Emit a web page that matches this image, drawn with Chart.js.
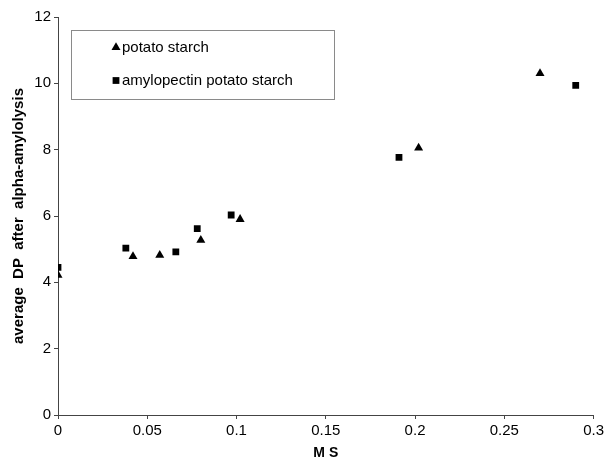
<!DOCTYPE html>
<html><head><meta charset="utf-8">
<script src="https://cdn.jsdelivr.net/npm/chart.js@4/dist/chart.umd.min.js"></script>
<style>html,body{margin:0;padding:0;background:#fff}#wrap{width:607px;height:458px}</style>
</head><body><div id="wrap"><canvas id="c" width="607" height="458"></canvas></div>
<script>
const seriesNames = ['potato starch', 'amylopectin potato starch'];
const potatoMS = [0, 0.042, 0.057, 0.080, 0.102, 0.202, 0.270];
const potatoDP = [4.22, 4.78, 4.82, 5.27, 5.9, 8.05, 10.3];
const amyloMS = [0, 0.038, 0.066, 0.078, 0.097, 0.191, 0.290];
const amyloDP = [4.45, 5.03, 4.92, 5.62, 6.03, 7.77, 9.94];
const xTickLabels = ['0', '0.05', '0.1', '0.15', '0.2', '0.25', '0.3'];
const yTickLabels = ['0', '2', '4', '6', '8', '10', '12'];
const xTitle = 'M S';
const yTitle = 'average  DP  after  alpha-amylolysis';

const FONT = "'Liberation Sans', Arial, Helvetica, sans-serif";
const toPts = (xs, ys) => xs.map((x, i) => ({x: x, y: ys[i]}));

const legendBox = {
  id: 'legendBox',
  afterDraw(chart) {
    const ctx = chart.ctx;
    ctx.save();
    ctx.strokeStyle = '#8a8a8a';
    ctx.lineWidth = 1;
    ctx.strokeRect(71.5, 30.5, 263, 69);
    ctx.font = '15px ' + FONT;
    ctx.textBaseline = 'middle';
    const rows = [47.5, 80.5];
    chart.data.datasets.forEach((ds, i) => {
      const y = rows[i];
      const style = {pointStyle: ds.pointStyle, radius: ds.pointRadius, rotation: 0, borderWidth: 0};
      ctx.fillStyle = '#000';
      ctx.strokeStyle = '#000';
      Chart.helpers.drawPoint(ctx, style, 116, y);
      ctx.fillStyle = '#000';
      ctx.fillText(ds.label, 122, y);
    });
    ctx.restore();
  }
};

new Chart(document.getElementById('c'), {
  type: 'scatter',
  data: {
    datasets: [
      {label: seriesNames[0], data: toPts(potatoMS, potatoDP), pointStyle: 'triangle', pointRadius: 5.2,
       backgroundColor: '#000', borderColor: '#000', borderWidth: 0},
      {label: seriesNames[1], data: toPts(amyloMS, amyloDP), pointStyle: 'rect', pointRadius: 4.8,
       backgroundColor: '#000', borderColor: '#000', borderWidth: 0}
    ]
  },
  options: {
    responsive: false,
    devicePixelRatio: 1,
    animation: false,
    layout: {padding: {top: 17, right: 12, left: 0, bottom: 0}},
    plugins: {legend: {display: false}, tooltip: {enabled: false}},
    scales: {
      x: {
        type: 'linear', min: 0, max: 0.3,
        afterFit(s) { s.height = 43; },
        ticks: {stepSize: 0.05, color: '#000', font: {family: FONT, size: 15}, padding: 3,
          callback: (v, i) => xTickLabels[i]},
        grid: {display: true, drawOnChartArea: false, drawTicks: true, tickLength: 4, color: '#444'},
        border: {display: true, color: '#444', width: 1},
        title: {display: true, text: xTitle, color: '#000', font: {family: FONT, size: 14, weight: 'bold'},
          padding: {top: 0, bottom: -4}}
      },
      y: {
        type: 'linear', min: 0, max: 12,
        afterFit(s) { s.width = 58; },
        ticks: {stepSize: 2, color: '#000', font: {family: FONT, size: 15}, padding: 3,
          callback: (v, i) => yTickLabels[i]},
        grid: {display: true, drawOnChartArea: false, drawTicks: true, tickLength: 4, color: '#444'},
        border: {display: true, color: '#444', width: 1},
        title: {display: true, text: yTitle, color: '#000', font: {family: FONT, size: 15, weight: 'bold'},
          padding: {top: 10, bottom: 0}}
      }
    }
  },
  plugins: [legendBox]
});
</script></body></html>
